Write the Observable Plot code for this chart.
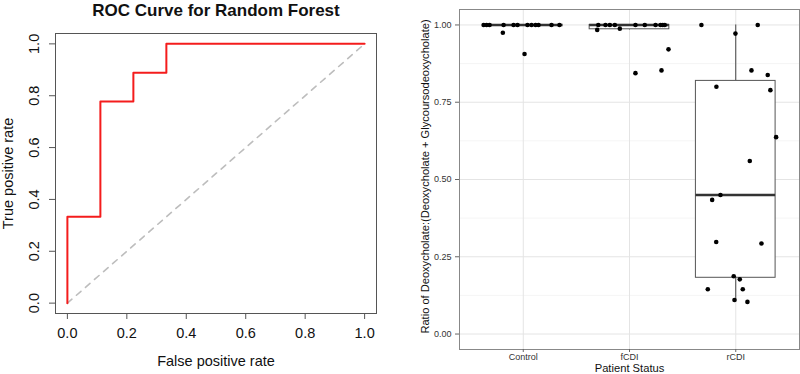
<!DOCTYPE html>
<html>
<head>
<meta charset="utf-8">
<script src="https://cdn.jsdelivr.net/npm/d3@7"></script>
<script src="https://cdn.jsdelivr.net/npm/@observablehq/plot@0.6"></script>
<style>
  body { margin: 0; background: white; }
  #wrap { position: relative; width: 800px; height: 374px; overflow: hidden; background: white; }
  #left, #right { position: absolute; top: 0; }
  #left { left: 0; }
  #right { left: 400px; }
  svg { display: block; }
</style>
</head>
<body>
<div id="wrap"><div id="left"></div><div id="right"></div></div>
<script>
// ---------- Data: ROC curve ----------
const rocTitle = "ROC Curve for Random Forest";
const rocFPR = [0, 0, 0.111, 0.111, 0.222, 0.222, 0.333, 0.333, 1];
const rocTPR = [0, 0.333, 0.333, 0.778, 0.778, 0.889, 0.889, 1, 1];
const chanceFPR = [0, 1];
const chanceTPR = [0, 1];
const rocTicks = [0, 0.2, 0.4, 0.6, 0.8, 1.0];

// ---------- Data: ratio by patient status ----------
const categories = ["Control", "fCDI", "rCDI"];
const controlRatio  = [1, 1, 1, 1, 1, 1, 1, 1, 1, 1, 1, 1, 0.975, 0.906];
const controlJitter = [-0.373, -0.345, -0.317, -0.185, -0.091, -0.054, 0.040, 0.078, 0.116, 0.144, 0.266, 0.341, -0.192, 0.012];
const fcdiRatio  = [1, 1, 1, 1, 1, 1, 1, 1, 1, 1, 0.984, 0.988, 0.844, 0.853, 0.921];
const fcdiJitter = [-0.294, -0.226, -0.185, -0.138, 0.056, 0.144, 0.245, 0.292, 0.313, 0.332, -0.304, -0.091, 0.056, 0.301, 0.367];
const rcdiRatio  = [1.0, 1.0, 0.972, 0.853, 0.838, 0.80, 0.789, 0.637, 0.56, 0.450, 0.434, 0.298, 0.293, 0.187, 0.177, 0.145, 0.145, 0.110, 0.104];
const rcdiJitter = [-0.323, 0.207, -0.003, 0.148, 0.301, -0.182, 0.326, 0.380, 0.132, -0.144, -0.222, -0.184, 0.242, -0.019, 0.038, -0.263, 0.066, -0.012, 0.110];
const ratioTicks = [0, 0.25, 0.5, 0.75, 1.0];
const ratioMinorTicks = [0.125, 0.375, 0.625, 0.875];
const yLabelRight = "Ratio of Deoxycholate:(Deoxycholate + Glycoursodeoxycholate)";
const xLabelRight = "Patient Status";

const FONT = "'Liberation Sans', Arial, Helvetica, sans-serif";

// ---------- Left: ROC ----------
const roc = rocFPR.map((f, i) => ({fpr: f, tpr: rocTPR[i]}));
const chance = chanceFPR.map((f, i) => ({fpr: f, tpr: chanceTPR[i]}));

const left = Plot.plot({
  width: 400, height: 374,
  marginLeft: 55, marginRight: 24, marginTop: 33, marginBottom: 61,
  x: {domain: [-0.04, 1.04]},
  y: {domain: [-0.04, 1.04]},
  style: {fontFamily: FONT, fontSize: "14px", color: "#111", background: "white", overflow: "visible"},
  marks: [
    Plot.line(chance, {x: "fpr", y: "tpr", stroke: "#bdbdbd", strokeWidth: 1.6, strokeDasharray: "6,6"}),
    Plot.line(roc, {x: "fpr", y: "tpr", stroke: "#f41c1c", strokeWidth: 2, curve: "linear"}),
    Plot.frame({stroke: "#555", strokeWidth: 1}),
    Plot.axisX({ticks: rocTicks, tickSize: 6, tickPadding: 8, tickFormat: d3.format(".1f"), label: null, fontSize: 14.5, stroke: "#555"}),
    Plot.axisY({ticks: rocTicks, tickSize: 6, text: null, label: null, stroke: "#555"}),
    Plot.text(rocTicks, {x: -0.04, y: d => d, text: d => d3.format(".1f")(d), rotate: -90, dx: -21, fontSize: 14.5, textAnchor: "middle", lineAnchor: "middle", fill: "#111"}),
    Plot.text([rocTitle], {frameAnchor: "top", dy: -23, fontSize: 17, fontWeight: "bold", textAnchor: "middle", lineAnchor: "middle", fill: "#111"}),
    Plot.text(["False positive rate"], {frameAnchor: "bottom", dy: 47.4, fontSize: 14.5, textAnchor: "middle", lineAnchor: "middle", fill: "#111"}),
    Plot.text(["True positive rate"], {frameAnchor: "left", dx: -47, rotate: -90, fontSize: 14.5, textAnchor: "middle", lineAnchor: "middle", fill: "#111"})
  ]
});
document.getElementById("left").appendChild(left);

// ---------- Right: boxplot + jitter ----------
const groups = [controlRatio, fcdiRatio, rcdiRatio];
const jitters = [controlJitter, fcdiJitter, rcdiJitter];
const points = groups.flatMap((vals, i) => vals.map((v, j) => ({pos: i + 1 + jitters[i][j], v})));
const stats = groups.map((vals, i) => {
  const s = vals.slice().sort(d3.ascending);
  const q1 = d3.quantile(s, 0.25), med = d3.quantile(s, 0.5), q3 = d3.quantile(s, 0.75);
  const iqr = q3 - q1;
  const lo = d3.min(s.filter(d => d >= q1 - 1.5 * iqr));
  const hi = d3.max(s.filter(d => d <= q3 + 1.5 * iqr));
  return {pos: i + 1, q1, med, q3, lo, hi};
});
const HALF = 0.375;

const right = Plot.plot({
  width: 400, height: 374,
  marginLeft: 59, marginRight: 1, marginTop: 9, marginBottom: 25,
  x: {domain: [0.4, 3.6]},
  y: {domain: [-0.05, 1.05]},
  style: {fontFamily: FONT, fontSize: "9px", color: "#333", background: "white", overflow: "visible"},
  marks: [
    Plot.gridY(ratioMinorTicks, {stroke: "#f3f3f3", strokeOpacity: 1, strokeWidth: 0.8}),
    Plot.gridY(ratioTicks, {stroke: "#e4e4e4", strokeOpacity: 1, strokeWidth: 1}),
    Plot.gridX([1, 2, 3], {stroke: "#e4e4e4", strokeOpacity: 1, strokeWidth: 1}),
    Plot.ruleX(stats, {x: "pos", y1: "lo", y2: "q1", stroke: "#444", strokeWidth: 1}),
    Plot.ruleX(stats, {x: "pos", y1: "q3", y2: "hi", stroke: "#444", strokeWidth: 1}),
    Plot.rect(stats, {x1: d => d.pos - HALF, x2: d => d.pos + HALF, y1: "q1", y2: "q3", fill: "white", stroke: "#555", strokeWidth: 1}),
    Plot.ruleY(stats, {y: "med", x1: d => d.pos - HALF, x2: d => d.pos + HALF, stroke: "#333", strokeWidth: 2.6}),
    Plot.dot(points, {x: "pos", y: "v", r: 2.3, fill: "#000", stroke: "none"}),
    Plot.frame({stroke: "#888", strokeWidth: 1}),
    Plot.axisX({ticks: [1, 2, 3], tickFormat: d => categories[d - 1], tickSize: 3, tickPadding: 1.5, label: null, fontSize: 9, stroke: "#666", fill: "#333"}),
    Plot.axisY({ticks: ratioTicks, tickFormat: d3.format(".2f"), tickSize: 4, tickPadding: 4, label: null, fontSize: 9, stroke: "#666", fill: "#333"}),
    Plot.text([xLabelRight], {frameAnchor: "bottom", dy: 19.0, fontSize: 11.2, textAnchor: "middle", lineAnchor: "middle", fill: "#111"}),
    Plot.text([yLabelRight], {frameAnchor: "left", dx: -34, dy: -3, rotate: -90, fontSize: 11.1, textAnchor: "middle", lineAnchor: "middle", fill: "#111"})
  ]
});
document.getElementById("right").appendChild(right);
</script>
</body>
</html>
